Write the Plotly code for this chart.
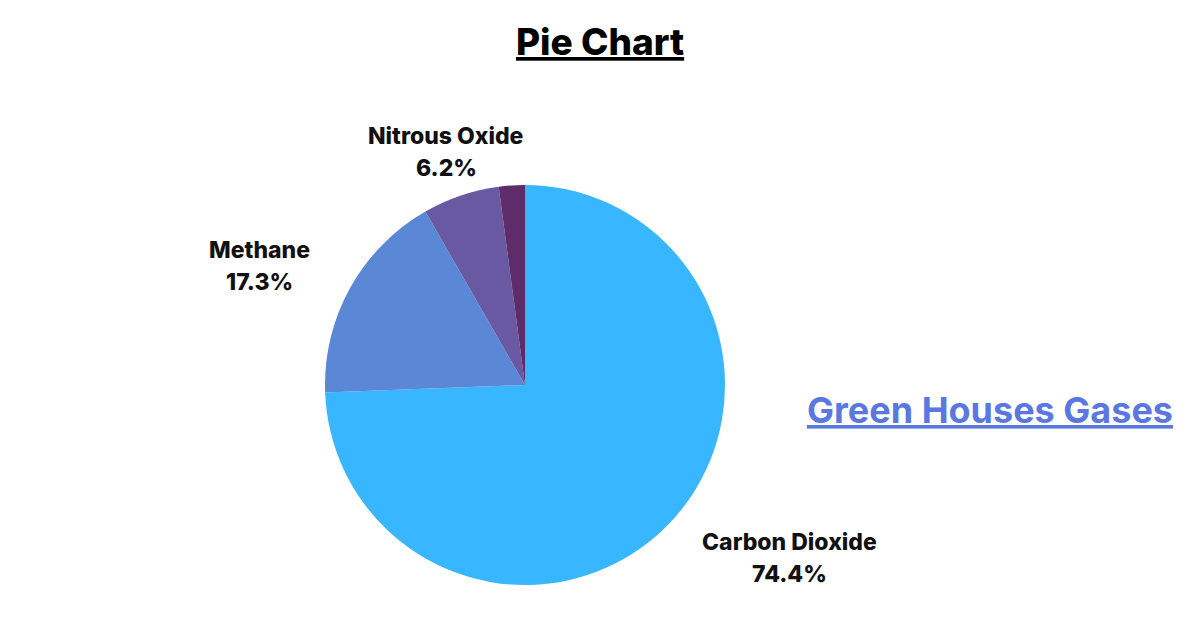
import plotly.graph_objects as go

# Data
gases = ['Carbon Dioxide', 'Methane', 'Nitrous Oxide', 'Other']
shares = [74.4, 17.3, 6.2, 2.1]
colors = ['#38B6FF', '#5B87D7', '#6959A3', '#5E2C68']
shown_labels = ['Carbon Dioxide', 'Methane', 'Nitrous Oxide']

W, H = 1200, 627
OFF = 8  # page body margin shifts the whole figure
FONT = 'Inter'


def px(x):
    return (x - OFF) / W


def py(y):
    return 1 - (y - OFF) / H


fig = go.Figure(
    go.Pie(
        labels=gases,
        values=shares,
        sort=False,
        direction='clockwise',
        rotation=0,
        marker=dict(colors=colors, line=dict(width=0)),
        textinfo='none',
        hoverinfo='label+percent',
        domain=dict(x=[px(325), px(725)], y=[py(585), py(185)]),
    )
)

# label positions (page pixels, first line) for the three named slices
label_pos = {
    'Carbon Dioxide': (790, 542),
    'Methane': (259, 250),
    'Nitrous Oxide': (446, 136),
}
LINE_GAP = 32

annotations = []
for name in shown_labels:
    x, y = label_pos[name]
    pct = shares[gases.index(name)]
    for i, txt in enumerate([name, f'{pct:.1f}%']):
        annotations.append(dict(
            text=txt,
            x=px(x), y=py(y + i * LINE_GAP), xref='paper', yref='paper',
            xanchor='center', yanchor='middle', showarrow=False,
            font=dict(family=FONT, size=23, color='#111111', weight=800),
        ))

annotations.append(dict(
    text='<u>Pie Chart</u>',
    x=px(600), y=py(42), xref='paper', yref='paper',
    xanchor='center', yanchor='middle', showarrow=False,
    font=dict(family=FONT, size=37, color='#000000', weight=800),
))
annotations.append(dict(
    text='<u>Green Houses Gases</u>',
    x=px(990), y=py(410), xref='paper', yref='paper',
    xanchor='center', yanchor='middle', showarrow=False,
    font=dict(family=FONT, size=36, color='#5A78E0', weight=700),
))

fig.update_layout(
    width=W,
    height=H,
    margin=dict(l=0, r=0, t=0, b=0),
    paper_bgcolor='white',
    plot_bgcolor='white',
    showlegend=False,
    annotations=annotations,
)

fig.write_html("out.html")
